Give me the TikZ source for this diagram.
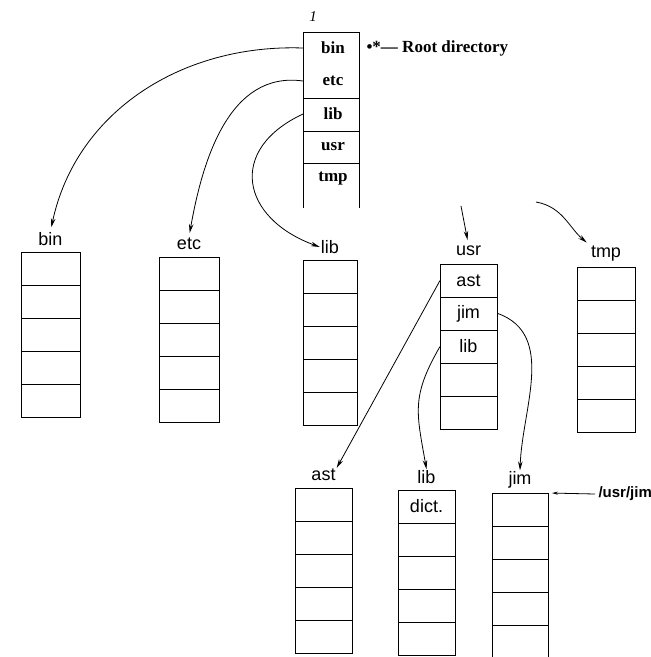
\documentclass[tikz,border=0pt]{standalone}
\usepackage{fontspec}
\setmainfont{Liberation Serif}
\setsansfont{Liberation Sans}
\usetikzlibrary{arrows.meta}
\tikzset{
  dirlabel/.style={font=\sffamily\fontsize{18}{18}\selectfont, inner sep=1pt},
  entry/.style={font=\sffamily\fontsize{18}{18}\selectfont, inner sep=0pt},
  rootentry/.style={font=\bfseries\fontsize{17}{17}\selectfont, inner sep=0pt},
  link/.style={line width=0.8pt, -{Stealth[length=9pt,width=4.5pt]}},
}
\newcommand{\dirbox}[6]{%
  % name, x, y of top, width, label, entries.
  \begin{scope}[shift={(#2,#3)}]
    \node[draw, line width=0.9pt, inner sep=0pt, minimum width=#4, minimum height=165, anchor=north west] (#1) at (0,0) {};
    \foreach \k in {1,...,4}{%
      \draw[line width=0.9pt] (0,\k*33) -- (#4,\k*33);
    }
    \node[dirlabel] (#1-label) at ({#4/2},-13) {#5};
    \foreach \e [count=\i from 1] in {#6}{%
      \node[entry] (#1-\i) at ({#4/2},{\i*33-16.5}) {\e};
    }
  \end{scope}
}

\begin{document}
\begin{tikzpicture}[x=1pt,y=-1pt]
  \useasboundingbox (0,0) rectangle (651,657);
  % root directory
  \node[inner sep=0pt, minimum width=56, minimum height=176, anchor=north west] (root) at (303,32) {};
  \draw[line width=0.9pt] (303,208) -- (303,32) -- (359,32) -- (359,208);
  \foreach \y in {98,131,163}{%
    \draw[line width=0.9pt] (303,\y) -- (359,\y);
  }
  \foreach \name/\y in {bin/48,etc/81,lib/114,usr/147,tmp/179}{%
    \node[rootentry] (root-\name) at (333,\y) {\name};
  }
  \node[font=\itshape\fontsize{15}{15}\selectfont] (rootnum) at (313,17) {1};
  \node[font=\bfseries\fontsize{17}{17}\selectfont, anchor=west] (rootnote) at (363,48) {•*— Root directory};
  % first level
  \dirbox{bin}{21}{252}{59}{bin}{}
  \dirbox{etc}{159}{257}{60}{etc}{}
  \dirbox{lib}{303}{260}{54}{lib}{}
  \dirbox{usr}{440}{264}{57}{usr}{ast,jim,lib}
  \dirbox{tmp}{577}{267}{58}{tmp}{}
  % second level
  \dirbox{ast}{295}{488}{57}{ast}{}
  \dirbox{ulib}{398}{490}{57}{lib}{dict.}
  \dirbox{jim}{492}{493}{56}{jim}{}
  \node[font=\sffamily\bfseries\fontsize{15}{15}\selectfont, anchor=west] (jimpath) at (595,494) {/usr/jim};
  % links
  \draw[link, shorten >=4pt] (root.west |- root-bin) to[out=178,in=78] (bin-label.north);
  \draw[link, shorten >=4pt] (root.west |- root-etc) to[out=172,in=80] (etc-label.north);
  \draw[link] (root.west |- root-lib) to[out=205,in=160,looseness=1.6] (lib-label.west);
  \coordinate (usr-tail) at (461,206);
  \draw[link, shorten >=5pt] (usr-tail) -- (usr-label.north);
  \coordinate (tmp-tail) at (536,202);
  \draw[link, shorten >=4pt] (tmp-tail) to[out=-10,in=140] (tmp-label.north west);
  \draw[link] (usr.west |- usr-1) -- (ast-label.north east);
  \draw[link] (usr.west |- usr-3) to[out=240,in=100,looseness=1.2] (ulib-label.north);
  \draw[link] (usr.east |- usr-2) to[out=-20,in=88] (jim-label.north);
  \draw[line width=0.8pt, -{Stealth[length=6pt,width=3pt]}, shorten >=3pt] (jimpath.west) -- (jim.north east);
\end{tikzpicture}
\end{document}
